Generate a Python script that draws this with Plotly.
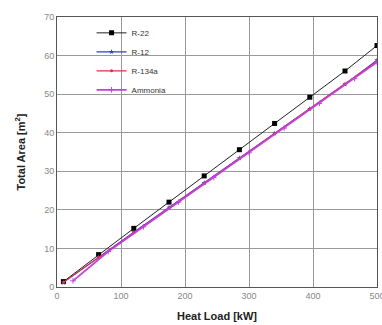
import plotly.graph_objects as go

heat_load = [10, 65, 120, 175, 230, 285, 340, 395, 450, 500]
r22 = [1.4, 8.4, 15.2, 22.0, 28.8, 35.6, 42.4, 49.2, 56.0, 62.6]
r12 = [1.2, 7.8, 14.2, 20.6, 27.0, 33.4, 39.8, 46.2, 52.6, 58.8]
r134a = [1.2, 7.7, 14.1, 20.5, 26.9, 33.3, 39.7, 46.1, 52.5, 58.5]
ammonia_load = [25, 80, 135, 190, 245, 300, 355, 410, 465, 500]
ammonia = [1.6, 9.2, 15.6, 22.0, 28.4, 34.8, 41.2, 47.6, 54.0, 58.3]

x_ticks = [0, 100, 200, 300, 400, 500]
y_ticks = [0, 10, 20, 30, 40, 50, 60, 70]

fig = go.Figure()
fig.add_trace(go.Scatter(x=heat_load, y=r22, name="R-22", mode="lines+markers",
                         line=dict(color="#222222", width=1),
                         marker=dict(symbol="square", size=5, color="black"),
                         legendgroup="a"))
fig.add_trace(go.Scatter(x=heat_load, y=r12, name="R-12", mode="lines+markers",
                         line=dict(color="#3040c0", width=1.2),
                         marker=dict(symbol="star", size=4, color="#3040c0"),
                         legendgroup="b"))
fig.add_trace(go.Scatter(x=heat_load, y=r134a, name="R-134a", mode="lines+markers",
                         line=dict(color="#e03040", width=1.2),
                         marker=dict(symbol="circle", size=3, color="#e03040"),
                         legendgroup="c"))
fig.add_trace(go.Scatter(x=ammonia_load, y=ammonia, name="Ammonia", mode="lines+markers",
                         line=dict(color="#c040e0", width=1.8),
                         marker=dict(symbol="cross-thin", size=4, color="#c040e0",
                                     line=dict(width=1, color="#c040e0")),
                         legendgroup="d"))

axis_common = dict(showgrid=True, gridcolor="#999999", gridwidth=1,
                   showline=True, linecolor="#555555", linewidth=1, mirror=True,
                   zeroline=False, ticks="", ticklabeloverflow="allow", automargin=False,
                   tickfont=dict(family="Arial", size=9, color="#888888"))

fig.update_layout(
    width=382, height=325,
    margin=dict(l=57, r=5, t=17, b=38),
    paper_bgcolor="white", plot_bgcolor="white",
    font=dict(family="Arial"),
    legend=dict(x=0.108, y=0.995, xanchor="left", yanchor="top",
                font=dict(size=8, color="#333333"), bgcolor="rgba(0,0,0,0)",
                tracegroupgap=0, itemwidth=30),
    xaxis=dict(range=[0, 500], tickvals=x_ticks, **axis_common,
               title=dict(text="<b>Heat Load [kW]</b>", font=dict(size=11, color="#222222"), standoff=12)),
    yaxis=dict(range=[0, 70], tickvals=y_ticks, **axis_common,
               title=dict(text="<b>Total Area [m<sup>2</sup>]</b>", font=dict(size=11, color="#222222"), standoff=16)),
)

fig.write_html("out.html", config={"displayModeBar": False},
               post_script="document.body.style.margin='0';")
